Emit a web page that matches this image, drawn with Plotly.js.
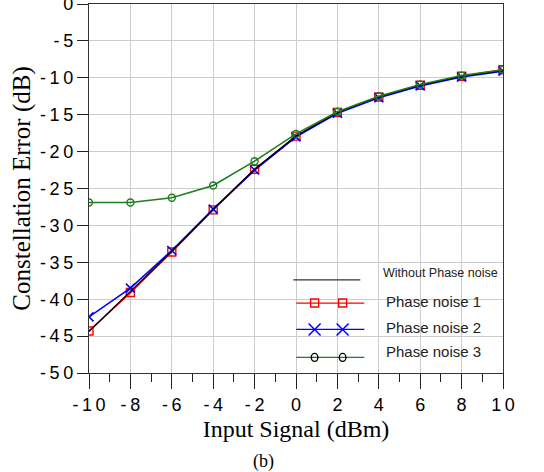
<!DOCTYPE html>
<html><head><meta charset="utf-8">
<script src="https://cdn.plot.ly/plotly-3.0.1.min.js"></script>
<style>html,body{margin:0;padding:0;background:#fff}#c{width:544px;height:472px}</style>
</head><body><div id="c"></div>
<script>
const inputSignal = [-10, -8, -6, -4, -2, 0, 2, 4, 6, 8, 10];
const withoutPN = [-44.4, -39.0, -33.5, -27.8, -22.4, -17.9, -14.7, -12.6, -11.0, -9.8, -9.0];
const phaseNoise1 = [-44.3, -39.1, -33.6, -27.9, -22.4, -17.9, -14.7, -12.6, -11.0, -9.8, -8.9];
const phaseNoise2 = [-42.4, -38.5, -33.4, -27.8, -22.5, -18.0, -14.8, -12.7, -11.1, -9.9, -9.1];
const phaseNoise3 = [-26.9, -26.9, -26.25, -24.6, -21.3, -17.6, -14.6, -12.5, -10.9, -9.7, -8.9];
const seriesNames = ["Without Phase noise", "Phase noise 1", "Phase noise 2", "Phase noise 3"];
const xTicks = [-10, -8, -6, -4, -2, 0, 2, 4, 6, 8, 10];
const yTicks = [0, -5, -10, -15, -20, -25, -30, -35, -40, -45, -50];

// spaced-out tick text like the original rendering
const spaced = v => String(v).split('').join('\u2009');

const traces = [
  {x: inputSignal, y: phaseNoise1, mode: 'lines+markers', name: seriesNames[1],
   line: {color: '#ff0000', width: 1.6}, marker: {symbol: 'square-open', size: 8, color: '#ff0000', line: {width: 1.4}}},
  {x: inputSignal, y: phaseNoise2, mode: 'lines+markers', name: seriesNames[2],
   line: {color: '#0000ff', width: 1.6}, marker: {symbol: 'x-thin-open', size: 9, color: '#0000ff', line: {width: 1.6, color: '#0000ff'}}},
  {x: inputSignal, y: withoutPN, mode: 'lines', name: seriesNames[0],
   line: {color: '#000000', width: 1.2}},
  {x: inputSignal, y: phaseNoise3, mode: 'lines+markers', name: seriesNames[3],
   line: {color: '#1e7d1e', width: 1.6}, marker: {symbol: 'circle-open', size: 7, color: '#1e7d1e', line: {width: 1.4}}}
];

// pixel -> paper helpers for the hand-drawn legend
const L = 88.7, R = 502.7, T = 4, B = 373.3;
const px = v => (v - L) / (R - L);
const py = v => (B - v) / (B - T);

const shapes = [];
const annotations = [];
const legendRows = [
  {y: 280, color: '#333333', sym: null, ty: 273.5, size: 12.5, x0: 293, x1: 360, m: []},
  {y: 303.3, color: '#ff0000', sym: 'sq', ty: 301.5, size: 15, x0: 296, x1: 364, m: [314.3, 342.3]},
  {y: 329.7, color: '#0000ff', sym: 'x', ty: 327.5, size: 15, x0: 296, x1: 364, m: [314.3, 342.3]},
  {y: 357.7, color: '#1e7d1e', sym: 'o', ty: 352, size: 15, x0: 296, x1: 364, m: [314.3, 342.3]}
];
legendRows.forEach((r, i) => {
  shapes.push({type: 'line', xref: 'paper', yref: 'paper', x0: px(r.x0), x1: px(r.x1), y0: py(r.y), y1: py(r.y),
    line: {color: r.color, width: 1.3}});
  r.m.forEach(mx => {
    if (r.sym === 'sq') {
      shapes.push({type: 'rect', xref: 'paper', yref: 'paper', x0: px(mx - 4), x1: px(mx + 4), y0: py(r.y - 4), y1: py(r.y + 4),
        line: {color: '#ff0000', width: 1.4}, fillcolor: 'rgba(0,0,0,0)'});
    } else if (r.sym === 'x') {
      shapes.push({type: 'line', xref: 'paper', yref: 'paper', x0: px(mx - 6), x1: px(mx + 6), y0: py(r.y - 6), y1: py(r.y + 6), line: {color: '#0000ff', width: 1.5}});
      shapes.push({type: 'line', xref: 'paper', yref: 'paper', x0: px(mx - 6), x1: px(mx + 6), y0: py(r.y + 6), y1: py(r.y - 6), line: {color: '#0000ff', width: 1.5}});
    } else if (r.sym === 'o') {
      shapes.push({type: 'circle', xref: 'paper', yref: 'paper', x0: px(mx - 3.3), x1: px(mx + 3.3), y0: py(r.y - 4), y1: py(r.y + 4),
        line: {color: '#000000', width: 1.4}, fillcolor: 'rgba(0,0,0,0)'});
    }
  });
  annotations.push({xref: 'paper', yref: 'paper', x: px(i === 0 ? 381 : 384), y: py(r.ty), xanchor: 'left', yanchor: 'middle',
    text: seriesNames[i], showarrow: false, font: {family: 'Liberation Sans, Arial', size: r.size, color: '#222'}});
});
annotations.push({xref: 'paper', yref: 'paper', x: px(263), y: py(461.5), xanchor: 'center', yanchor: 'middle',
  text: '(b)', showarrow: false, font: {family: 'Liberation Serif, Times New Roman', size: 18, color: '#000'}});

const layout = {
  width: 544, height: 472,
  margin: {l: L, r: 544 - R, t: T, b: 472 - B, pad: 0},
  paper_bgcolor: '#fff', plot_bgcolor: '#fff',
  showlegend: false,
  font: {family: 'Liberation Sans, Arial', color: '#000'},
  xaxis: {
    range: [-10, 10], tickvals: xTicks, ticktext: xTicks.map(spaced),
    ticks: 'outside', ticklen: 15, tickcolor: '#222', tickwidth: 1,
    minor: {dtick: 1, tick0: -10, ticks: 'outside', ticklen: 8, tickcolor: '#222', showgrid: false},
    showgrid: true, gridcolor: '#cccccc', gridwidth: 1,
    showline: true, linecolor: '#333', linewidth: 1.2, mirror: true,
    zeroline: false, ticklabeloverflow: 'allow', tickfont: {size: 18, family: 'Liberation Sans, Arial'},
    title: {text: 'Input Signal (dBm)', font: {family: 'Liberation Serif, Times New Roman', size: 24}, standoff: 6}
  },
  yaxis: {
    range: [-50, 0], tickvals: yTicks, ticktext: yTicks.map(spaced),
    ticks: 'outside', ticklen: 11, tickcolor: '#222', tickwidth: 1,
    showgrid: true, gridcolor: '#cccccc', gridwidth: 1,
    showline: true, linecolor: '#333', linewidth: 1.2, mirror: true,
    zeroline: false, ticklabeloverflow: 'allow', tickfont: {size: 18, family: 'Liberation Sans, Arial'},
    title: {text: 'Constellation Error (dB)', font: {family: 'Liberation Serif, Times New Roman', size: 25}, standoff: 2}
  },
  shapes: shapes,
  annotations: annotations
};
Plotly.newPlot('c', traces, layout, {displayModeBar: false, staticPlot: true});
</script></body></html>
